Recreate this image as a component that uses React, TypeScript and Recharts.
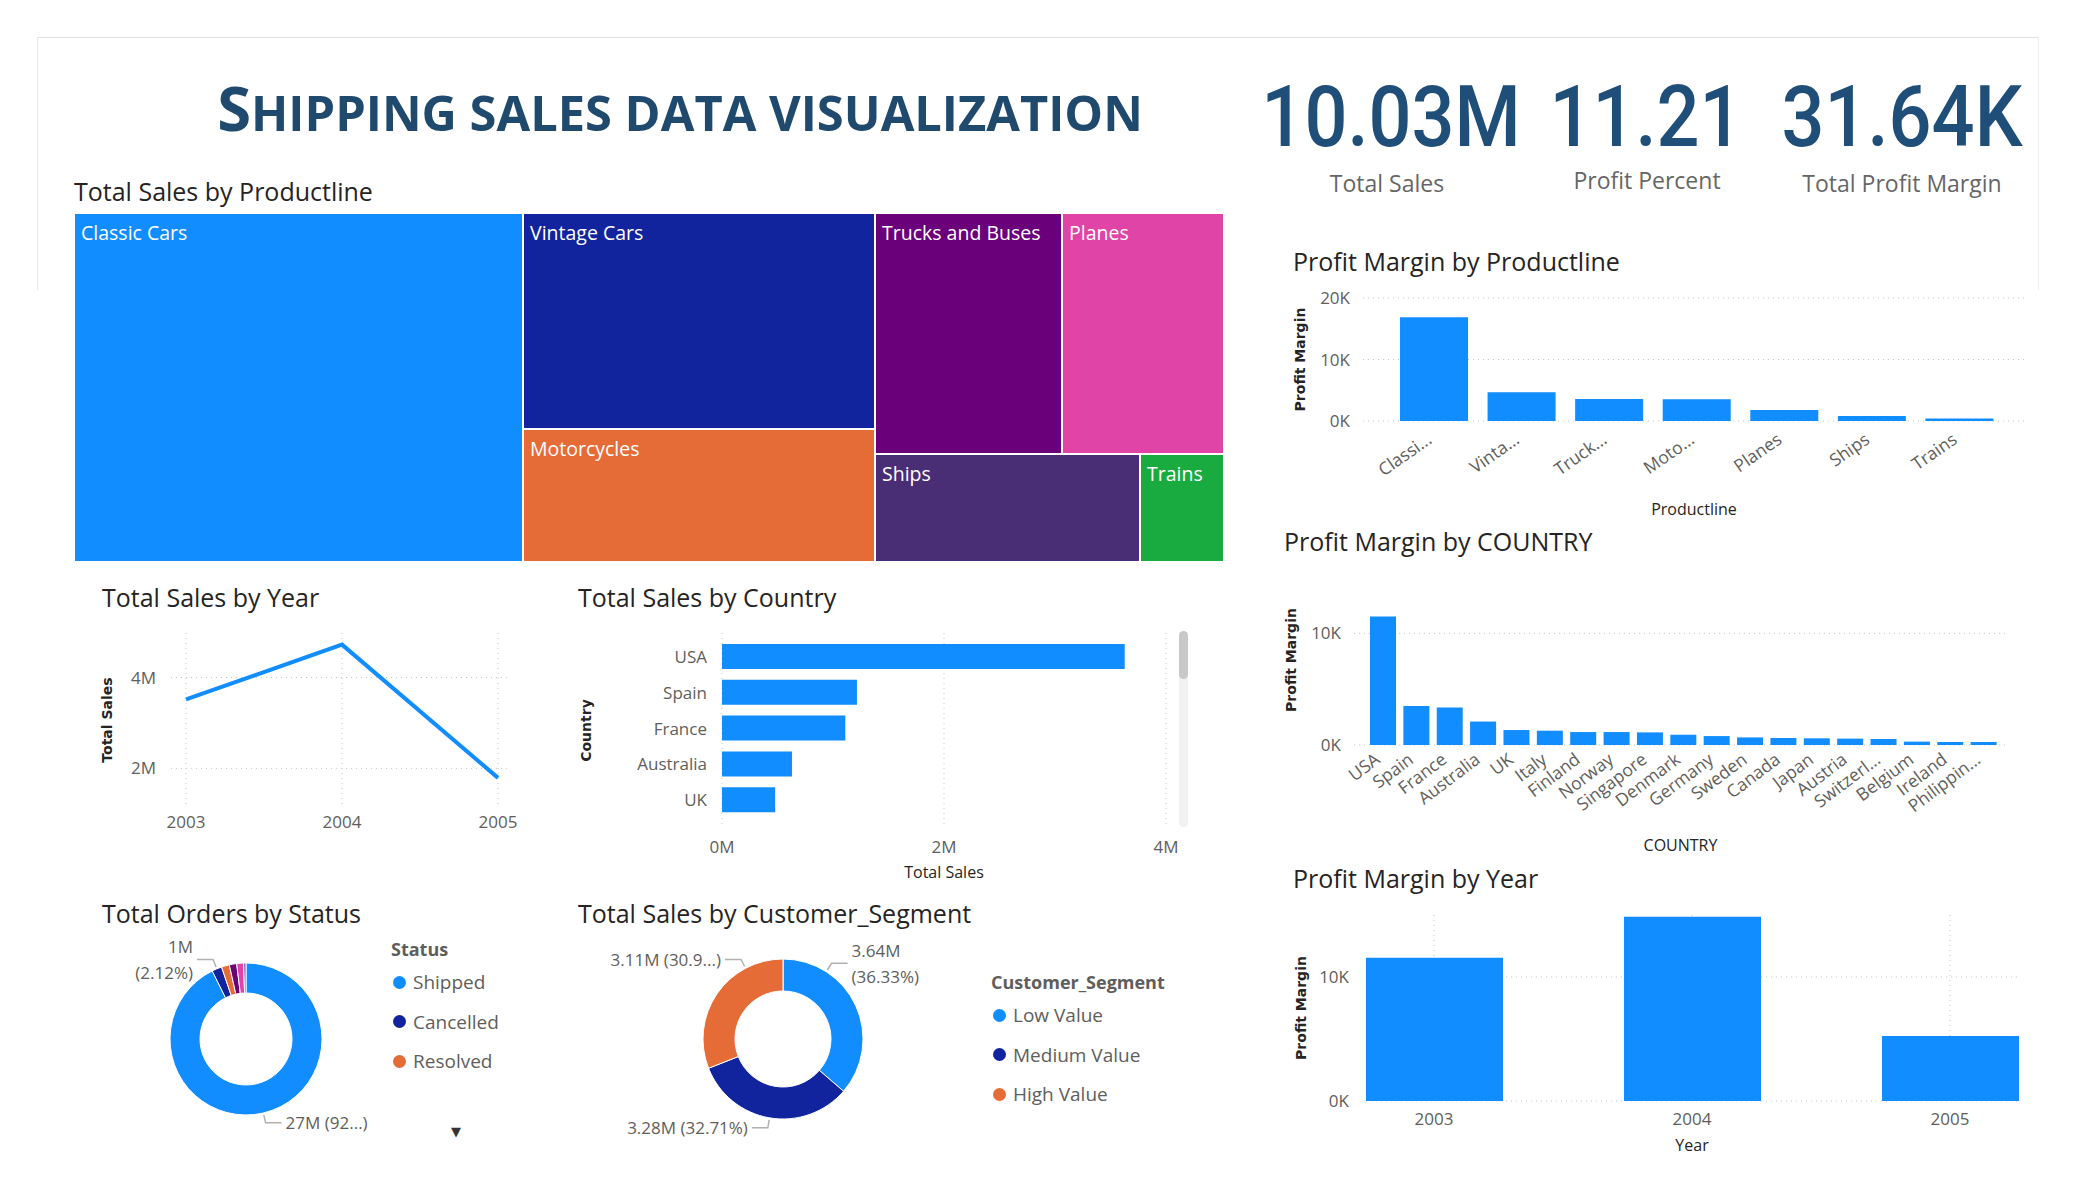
import React from 'react';
import {
  Treemap,
  LineChart,
  Line,
  BarChart,
  Bar,
  PieChart,
  Pie,
  Cell,
  XAxis,
  YAxis,
  CartesianGrid,
} from 'recharts';

const FONT = '"Open Sans", "Noto Sans", sans-serif';
const TITLE_COLOR = '#252423';
const TICK_COLOR = '#605E5C';
const BLUE = '#118DFF';
const GRID = '#C8C6C4';
const NAVY = '#1F4E79';

// KPI cards
const KPI_VALUES = ['10.03M', '11.21', '31.64K'];
const KPI_LABELS = ['Total Sales', 'Profit Percent', 'Total Profit Margin'];

// Total Sales by Productline (treemap)
const PRODUCTLINES = ['Classic Cars', 'Vintage Cars', 'Motorcycles', 'Trucks and Buses', 'Planes', 'Ships', 'Trains'];
const PRODUCTLINE_SALES = [3919616, 1903151, 1166388, 1127790, 975004, 714437, 226243];

// Total Sales by Year
const YEARS = ['2003', '2004', '2005'];
const YEAR_SALES = [3516979, 4724163, 1791487];

// Total Sales by Country (visible part of the scrolled list)
const SALES_COUNTRIES = ['USA', 'Spain', 'France', 'Australia', 'UK'];
const COUNTRY_SALES = [3627982, 1215686, 1110916, 630623, 478880];

// Total Orders by Status
const STATUSES = ['Shipped', 'Cancelled', 'Resolved', 'On Hold', 'In Process', 'Disputed'];
const STATUS_ORDERS = [26760000, 612000, 485000, 452000, 425000, 142000];

// Total Sales by Customer_Segment
const SEGMENTS = ['Low Value', 'Medium Value', 'High Value'];
const SEGMENT_SALES = [3644800, 3281600, 3106229];

// Profit Margin by Productline
const MARGIN_PRODUCTLINES = ['Classic Cars', 'Vintage Cars', 'Trucks and Buses', 'Motorcycles', 'Planes', 'Ships', 'Trains'];
const MARGIN_PRODUCTLINE_TICKS = ['Classi...', 'Vinta...', 'Truck...', 'Moto...', 'Planes', 'Ships', 'Trains'];
const PRODUCTLINE_MARGIN = [16850, 4680, 3580, 3520, 1800, 800, 410];

// Profit Margin by COUNTRY
const MARGIN_COUNTRIES = ['USA', 'Spain', 'France', 'Australia', 'UK', 'Italy', 'Finland', 'Norway', 'Singapore', 'Denmark',
  'Germany', 'Sweden', 'Canada', 'Japan', 'Austria', 'Switzerland', 'Belgium', 'Ireland', 'Philippines'];
const MARGIN_COUNTRY_TICKS = ['USA', 'Spain', 'France', 'Australia', 'UK', 'Italy', 'Finland', 'Norway', 'Singapore', 'Denmark',
  'Germany', 'Sweden', 'Canada', 'Japan', 'Austria', 'Switzerl...', 'Belgium', 'Ireland', 'Philippin...'];
const COUNTRY_MARGIN = [11500, 3500, 3350, 2100, 1340, 1280, 1160, 1160, 1130, 920, 800, 680, 620, 600, 570, 540, 300, 270, 270];

// Profit Margin by Year
const YEAR_MARGIN = [11550, 14850, 5240];

const PRODUCT_COLORS: Record<string, string> = {
  'Classic Cars': '#118DFF',
  'Vintage Cars': '#12239E',
  Motorcycles: '#E66C37',
  'Trucks and Buses': '#6B007B',
  Planes: '#E044A7',
  Ships: '#4A2E75',
  Trains: '#1AAB40',
};
const STATUS_COLORS: Record<string, string> = {
  Shipped: '#118DFF',
  Cancelled: '#12239E',
  Resolved: '#E66C37',
  'On Hold': '#6B007B',
  'In Process': '#E044A7',
  Disputed: '#744EC2',
};
const SEGMENT_COLORS: Record<string, string> = {
  'Low Value': '#118DFF',
  'Medium Value': '#12239E',
  'High Value': '#E66C37',
};

const treeData = PRODUCTLINES.map((name, i) => ({ name, size: PRODUCTLINE_SALES[i] }));
const yearSalesData = YEARS.map((year, i) => ({ year, sales: YEAR_SALES[i] }));
const countrySalesData = SALES_COUNTRIES.map((country, i) => ({ country, sales: COUNTRY_SALES[i] }));
const statusData = STATUSES.map((status, i) => ({ status, orders: STATUS_ORDERS[i] }));
const segmentData = SEGMENTS.map((segment, i) => ({ segment, sales: SEGMENT_SALES[i] }));
const plMarginData = MARGIN_PRODUCTLINES.map((name, i) => ({ name, margin: PRODUCTLINE_MARGIN[i] }));
const countryMarginData = MARGIN_COUNTRIES.map((country, i) => ({ country, margin: COUNTRY_MARGIN[i] }));
const yearMarginData = YEARS.map((year, i) => ({ year, margin: YEAR_MARGIN[i] }));

const kFmt = (v: number) => `${Math.round(v / 1000)}K`;
const mFmt = (v: number) => `${Math.round(v / 1e6)}M`;
const pct = (p: number) => `${(p * 100).toFixed(2)}%`;
const cut = (s: string, n: number) => (s.length > n ? `${s.slice(0, n)}...)` : s);

const tickStyle = { fill: TICK_COLOR, fontSize: 17, fontFamily: FONT };

// absolutely placed text, y is the vertical centre
const Txt = ({ x, y, size, color = TITLE_COLOR, weight = 400, anchor = 'start', family = FONT, children }: any) => {
  const tx = anchor === 'middle' ? '-50%' : anchor === 'end' ? '-100%' : '0';
  return (
    <div
      style={{
        position: 'absolute', left: x, top: y, transform: `translate(${tx}, -50%)`,
        fontSize: size, color, fontWeight: weight, fontFamily: family, whiteSpace: 'nowrap', lineHeight: 1,
      }}
    >
      {children}
    </div>
  );
};

const vLabel = (text: string, dx: number, dy = 0) => (props: any) => {
  const vb = props.viewBox;
  const x = vb.x + dx;
  const y = vb.y + vb.height / 2 + dy;
  return (
    <text x={x} y={y} transform={`rotate(-90, ${x}, ${y})`} textAnchor="middle" dominantBaseline="central"
      fontSize={14} fontWeight={700} fill="#252423" fontFamily="DejaVu Sans">
      {text}
    </text>
  );
};

const hLabel = (text: string, dy: number) => (props: any) => {
  const vb = props.viewBox;
  return (
    <text x={vb.x + vb.width / 2} y={vb.y + dy} textAnchor="middle" dominantBaseline="central"
      fontSize={16} fill="#252423" fontFamily={FONT}>
      {text}
    </text>
  );
};

const AngledTick = (props: any) => {
  const { x, y, index, labels, angle, dx, dy } = props;
  const tx = x + dx;
  const ty = y + dy;
  return (
    <text x={tx} y={ty} dy="0.71em" transform={`rotate(${angle}, ${tx}, ${ty})`} textAnchor="end"
      fill={TICK_COLOR} fontSize={17.5} fontFamily={FONT}>
      {labels[index]}
    </text>
  );
};

const TreeCell = (props: any) => {
  const { x, y, width, height, name, depth } = props;
  if (depth !== 1) return <g />;
  return (
    <g>
      <rect x={x} y={y} width={width} height={height} fill={PRODUCT_COLORS[name]} stroke="#fff" strokeWidth={2} />
      <text x={x + 7} y={y + 27} fill="#fff" fontSize={19.5} fontFamily={FONT}>{name}</text>
    </g>
  );
};

// PBI pushes labels of the upper slices towards the top
const labelAngle = (raw: number) => {
  const mid = ((raw % 360) + 360) % 360;
  return mid > 0 && mid < 180 && Math.abs(mid - 90) > 30 ? (mid + 90) / 2 : mid;
};
const RAD = Math.PI / 180;

const leader = (lines: string[], mid: number, cx: number, cy: number, r: number) => {
  if (!lines.length) return <g />;
  const a = labelAngle(mid);
  const cos = Math.cos(-a * RAD);
  const sin = Math.sin(-a * RAD);
  const x0 = cx + (r + 2) * cos;
  const y0 = cy + (r + 2) * sin;
  const x1 = cx + (r + 10) * cos;
  const y1 = cy + (r + 10) * sin;
  const right = cos >= 0;
  const x2 = x1 + (right ? 16 : -16);
  const tx = x2 + (right ? 4 : -4);
  const lh = 26;
  const top = y1 - ((lines.length - 1) * lh) / 2;
  return (
    <g>
      <polyline points={`${x0},${y0} ${x1},${y1} ${x2},${y1}`} fill="none" stroke="#B3B0AD" strokeWidth={1.5} />
      {lines.map((l, i) => (
        <text key={i} x={tx} y={top + i * lh} textAnchor={right ? 'start' : 'end'} dominantBaseline="central"
          fill={TICK_COLOR} fontSize={17} fontFamily={FONT}>
          {l}
        </text>
      ))}
    </g>
  );
};

const statusLabel = (p: any) => {
  const { index, value, percent, midAngle, cx, cy, outerRadius } = p;
  let lines: string[] = [];
  if (index === 0) lines = [cut(`${mFmt(value)} (${pct(percent)})`, 7)];
  if (index === 1) lines = [mFmt(value), `(${pct(percent)})`];
  return leader(lines, midAngle, cx, cy, outerRadius);
};

const segmentLabel = (p: any) => {
  const { index, value, percent, midAngle, cx, cy, outerRadius } = p;
  const v = `${(value / 1e6).toFixed(2)}M`;
  let lines: string[] = [];
  if (index === 0) lines = [v, `(${pct(percent)})`];
  if (index === 1) lines = [`${v} (${pct(percent)})`];
  if (index === 2) lines = [cut(`${v} (${pct(percent)})`, 11)];
  return leader(lines, midAngle, cx, cy, outerRadius);
};

const LegendBlock = ({ x, y, title, names, colors }: any) => (
  <>
    <Txt x={x} y={y} size={18} weight={700} color={TICK_COLOR}>{title}</Txt>
    {names.map((n: string, i: number) => {
      const cy = y + 33 + i * 39.5;
      return (
        <React.Fragment key={n}>
          <div style={{ position: 'absolute', left: x + 2, top: cy - 6.5, width: 13, height: 13, borderRadius: '50%', background: colors[n] }} />
          <Txt x={x + 22} y={cy} size={19} color={TICK_COLOR}>{n}</Txt>
        </React.Fragment>
      );
    })}
  </>
);

const Box = ({ x, y, children }: any) => <div style={{ position: 'absolute', left: x, top: y }}>{children}</div>;

export default function App() {
  return (
    <div style={{ position: 'absolute', left: 0, top: 0, width: 2075, height: 1200, background: '#fff', overflow: 'hidden', fontFamily: FONT }}>
      {/* frame */}
      <div style={{ position: 'absolute', left: 37, top: 37, width: 2000, height: 252, borderTop: '1px solid #E1E1E1', borderLeft: '1px solid #E6E6E6', borderRight: '1px solid #EEEEEE' }} />

      {/* headline */}
      <div style={{ position: 'absolute', left: 680, top: 108, transform: 'translate(-50%, -50%)', color: '#1F4A6E', fontWeight: 700, fontFamily: FONT, whiteSpace: 'nowrap', lineHeight: 1 }}>
        <span style={{ fontSize: 61.5 }}>S</span>
        <span style={{ fontSize: 48.8 }}>HIPPING SALES DATA VISUALIZATION</span>
      </div>

      {/* KPIs */}
      {KPI_VALUES.map((v, i) => (
        <div key={v} style={{ position: 'absolute', left: [1391, 1646, 1902][i], top: 117, transform: 'translate(-50%, -50%) scaleX(0.88)', fontFamily: 'Roboto', fontWeight: 500, fontSize: 86, color: NAVY, lineHeight: 1, whiteSpace: 'nowrap' }}>
          {v}
        </div>
      ))}
      {KPI_LABELS.map((l, i) => (
        <Txt key={l} x={[1387, 1647, 1902][i]} y={[183, 180, 183][i]} size={23} color="#666666" anchor="middle">{l}</Txt>
      ))}

      {/* titles */}
      <Txt x={74} y={191} size={25}>Total Sales by Productline</Txt>
      <Txt x={102} y={597} size={25}>Total Sales by Year</Txt>
      <Txt x={578} y={597} size={25}>Total Sales by Country</Txt>
      <Txt x={102} y={913} size={25}>Total Orders by Status</Txt>
      <Txt x={578} y={913} size={25}>Total Sales by Customer_Segment</Txt>
      <Txt x={1293} y={261} size={25}>Profit Margin by Productline</Txt>
      <Txt x={1284} y={541} size={25}>Profit Margin by COUNTRY</Txt>
      <Txt x={1293} y={878} size={25}>Profit Margin by Year</Txt>

      {/* treemap */}
      <Box x={74} y={213}>
        <Treemap width={1150} height={349} data={treeData} dataKey="size" nameKey="name" isAnimationActive={false} content={<TreeCell />} />
      </Box>

      {/* sales by year */}
      <Box x={90} y={620}>
        <LineChart width={430} height={230} data={yearSalesData} margin={{ top: 13, right: 12, bottom: 0, left: 0 }}>
          <CartesianGrid stroke={GRID} strokeDasharray="1 4" syncWithTicks />
          <XAxis dataKey="year" axisLine={false} tickLine={false} tickSize={0} tickMargin={9} height={43}
            padding={{ left: 15, right: 10 }} interval={0} tick={tickStyle} />
          <YAxis width={81} domain={[1150000, 4980000]} ticks={[2000000, 4000000]} tickFormatter={mFmt} allowDataOverflow
            axisLine={false} tickLine={false} tickSize={0} tickMargin={15} tick={tickStyle} label={vLabel('Total Sales', 17)} />
          <Line dataKey="sales" stroke={BLUE} strokeWidth={4} dot={false} isAnimationActive={false} />
        </LineChart>
      </Box>

      {/* sales by country */}
      <Box x={570} y={620}>
        <BarChart layout="vertical" width={620} height={270} data={countrySalesData} margin={{ top: 13, right: 24, bottom: 0, left: 0 }} barSize={25}>
          <CartesianGrid horizontal={false} stroke={GRID} strokeDasharray="1 4" syncWithTicks />
          <XAxis type="number" domain={[0, 4000000]} ticks={[0, 2000000, 4000000]} tickFormatter={mFmt}
            axisLine={false} tickLine={false} tickSize={0} tickMargin={13} height={62} tick={tickStyle} label={hLabel('Total Sales', 44)} />
          <YAxis type="category" dataKey="country" width={152} axisLine={false} tickLine={false} tickSize={0} tickMargin={15}
            padding={{ top: 6, bottom: 10 }} interval={0} tick={tickStyle} label={vLabel('Country', 16)} />
          <Bar dataKey="sales" fill={BLUE} isAnimationActive={false} />
        </BarChart>
      </Box>
      <div style={{ position: 'absolute', left: 1179, top: 631, width: 9, height: 196, borderRadius: 5, background: '#F1F1F1' }} />
      <div style={{ position: 'absolute', left: 1179, top: 631, width: 9, height: 48, borderRadius: 5, background: '#C8C8C8' }} />

      {/* orders by status */}
      <Box x={90} y={930}>
        <PieChart width={300} height={220} margin={{ top: 0, right: 0, bottom: 0, left: 0 }}>
          <Pie data={statusData} dataKey="orders" nameKey="status" cx={156} cy={109} innerRadius={46} outerRadius={76}
            startAngle={90} endAngle={-270} stroke="#fff" strokeWidth={1} labelLine={false} label={statusLabel} isAnimationActive={false}>
            {statusData.map((d) => <Cell key={d.status} fill={STATUS_COLORS[d.status]} />)}
          </Pie>
        </PieChart>
      </Box>
      <LegendBlock x={391} y={949} title="Status" names={STATUSES.slice(0, 3)} colors={STATUS_COLORS} />
      <Txt x={456} y={1131} size={13} color="#333" anchor="middle" family="DejaVu Sans">▼</Txt>

      {/* sales by customer segment */}
      <Box x={570} y={930}>
        <PieChart width={420} height={220} margin={{ top: 0, right: 0, bottom: 0, left: 0 }}>
          <Pie data={segmentData} dataKey="sales" nameKey="segment" cx={213} cy={109} innerRadius={48} outerRadius={80}
            startAngle={90} endAngle={-270} stroke="#fff" strokeWidth={1} labelLine={false} label={segmentLabel} isAnimationActive={false}>
            {segmentData.map((d) => <Cell key={d.segment} fill={SEGMENT_COLORS[d.segment]} />)}
          </Pie>
        </PieChart>
      </Box>
      <LegendBlock x={991} y={982} title="Customer_Segment" names={SEGMENTS} colors={SEGMENT_COLORS} />

      {/* profit margin by productline */}
      <Box x={1280} y={280}>
        <BarChart width={760} height={240} data={plMarginData} margin={{ top: 18, right: 15, bottom: 0, left: 0 }} barSize={68}>
          <CartesianGrid vertical={false} stroke={GRID} strokeDasharray="1 4" syncWithTicks />
          <XAxis dataKey="name" axisLine={false} tickLine={false} tickSize={0} tickMargin={0} height={99} interval={0}
            padding={{ left: 27, right: 22 }}
            tick={<AngledTick labels={MARGIN_PRODUCTLINE_TICKS} angle={-35} dx={-8} dy={11} />}
            label={hLabel('Productline', 88)} />
          <YAxis width={83} domain={[0, 20000]} ticks={[0, 10000, 20000]} tickFormatter={kFmt}
            axisLine={false} tickLine={false} tickSize={0} tickMargin={13} tick={tickStyle} label={vLabel('Profit Margin', 20)} />
          <Bar dataKey="margin" fill={BLUE} isAnimationActive={false} />
        </BarChart>
      </Box>

      {/* profit margin by country */}
      <Box x={1270} y={590}>
        <BarChart width={770} height={280} data={countryMarginData} margin={{ top: 21, right: 33, bottom: 0, left: 0 }} barSize={26}>
          <CartesianGrid vertical={false} stroke={GRID} strokeDasharray="1 4" syncWithTicks />
          <XAxis dataKey="country" axisLine={false} tickLine={false} tickSize={0} tickMargin={0} height={125} interval={0}
            padding={{ left: 12, right: 7 }}
            tick={<AngledTick labels={MARGIN_COUNTRY_TICKS} angle={-37} dx={-9} dy={7} />}
            label={hLabel('COUNTRY', 100)} />
          <YAxis width={84} domain={[0, 12000]} ticks={[0, 10000]} tickFormatter={kFmt}
            axisLine={false} tickLine={false} tickSize={0} tickMargin={13} tick={tickStyle} label={vLabel('Profit Margin', 21, -18)} />
          <Bar dataKey="margin" fill={BLUE} isAnimationActive={false} />
        </BarChart>
      </Box>

      {/* profit margin by year */}
      <Box x={1280} y={900}>
        <BarChart width={760} height={260} data={yearMarginData} margin={{ top: 15, right: 22, bottom: 0, left: 0 }} barSize={137}>
          <CartesianGrid stroke={GRID} strokeDasharray="1 4" syncWithTicks />
          <XAxis dataKey="year" axisLine={false} tickLine={false} tickSize={0} tickMargin={12} height={59} interval={0}
            padding={{ left: -61, right: -61 }} tick={tickStyle} label={hLabel('Year', 44)} />
          <YAxis width={86} domain={[0, 15000]} ticks={[0, 10000]} tickFormatter={kFmt}
            axisLine={false} tickLine={false} tickSize={0} tickMargin={17} tick={tickStyle} label={vLabel('Profit Margin', 21)} />
          <Bar dataKey="margin" fill={BLUE} isAnimationActive={false} />
        </BarChart>
      </Box>
    </div>
  );
}
